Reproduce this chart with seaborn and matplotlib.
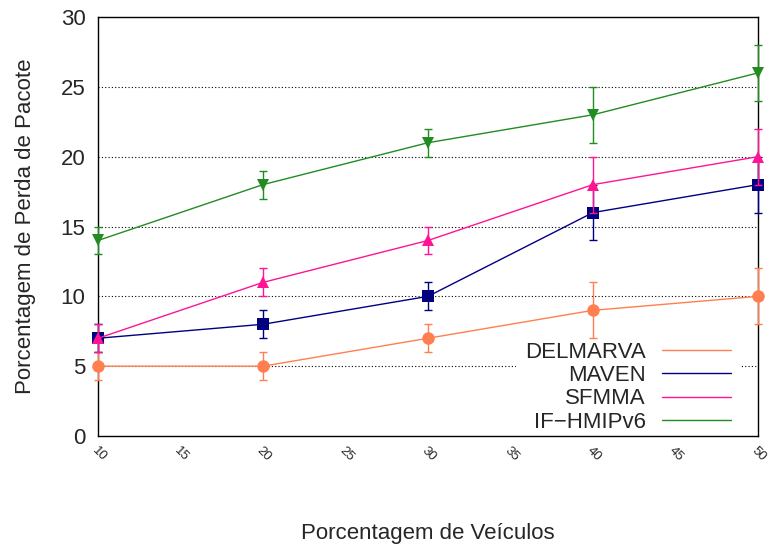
import pandas as pd
import matplotlib
matplotlib.use('Agg')
import matplotlib.pyplot as plt
from matplotlib.lines import Line2D
import seaborn as sns

# dados
veiculos = [10, 20, 30, 40, 50]
delmarva = [5, 5, 7, 9, 10]
delmarva_err = [1, 1, 1, 2, 2]
maven = [7, 8, 10, 16, 18]
maven_err = [1, 1, 1, 2, 2]
sfmma = [7, 11, 14, 18, 20]
sfmma_err = [1, 1, 1, 2, 2]
ifhmip = [14, 18, 21, 23, 26]
ifhmip_err = [1, 1, 1, 2, 2]

series = [
    ('DELMARVA', delmarva, delmarva_err, '#ff7f50', 'o'),
    ('MAVEN', maven, maven_err, '#000080', 's'),
    ('SFMMA', sfmma, sfmma_err, '#ff1493', '^'),
    ('IF\u2212HMIPv6', ifhmip, ifhmip_err, '#228b22', 'v'),
]

sns.set_style('white')
plt.rcParams['font.family'] = ['Liberation Sans', 'DejaVu Sans']

fig = plt.figure(figsize=(7.75, 5.49), dpi=100)
ax = fig.add_axes([0.1265, 0.2058, 0.8515, 0.7632])

handles = []
for nome, vals, err, cor, mk in series:
    df = pd.DataFrame({'x': veiculos, 'y': vals})
    sns.lineplot(data=df, x='x', y='y', ax=ax, color=cor, marker=mk,
                 markersize=9, markeredgewidth=0, linewidth=1, zorder=3,
                 clip_on=False)
    ax.errorbar(veiculos, vals, yerr=err, fmt='none', ecolor=cor,
                elinewidth=1, capsize=3, capthick=1, zorder=3, clip_on=False)
    handles.append(Line2D([], [], color=cor, linewidth=1))

ax.set_xlim(10, 50)
ax.set_ylim(0, 30)
ax.set_xticks(range(10, 51, 5))
ax.set_yticks(range(0, 31, 5))
ax.set_xticklabels([str(v) for v in range(10, 51, 5)], rotation=-45,
                   ha='left', va='top', rotation_mode='anchor', fontsize=9.5)
ax.tick_params(axis='y', labelsize=16, length=0, pad=9)
ax.tick_params(axis='x', length=0, pad=6)
for gy in [5, 10, 15, 20, 25]:
    ax.axhline(gy, color='black', linestyle=(0, (1, 2)), linewidth=0.8, zorder=1)
for s in ax.spines.values():
    s.set_color('black')
    s.set_linewidth(1)

ax.set_xlabel('Porcentagem de Veículos', fontsize=16, labelpad=43)
ax.set_ylabel('Porcentagem de Perda de Pacote', fontsize=16, labelpad=18)

leg = ax.legend(handles, [s[0] for s in series], loc='lower right',
                markerfirst=False, frameon=True, fontsize=16,
                handlelength=3.1, handletextpad=0.75, labelspacing=0.1,
                borderpad=0.4, borderaxespad=0.0, bbox_to_anchor=(0.973, -0.013))
leg.get_frame().set_edgecolor('white')
leg.get_frame().set_facecolor('white')
leg.get_frame().set_alpha(1)
leg.get_frame().set_linewidth(0)
leg.set_zorder(2)

fig.savefig('out.png', dpi=100)
